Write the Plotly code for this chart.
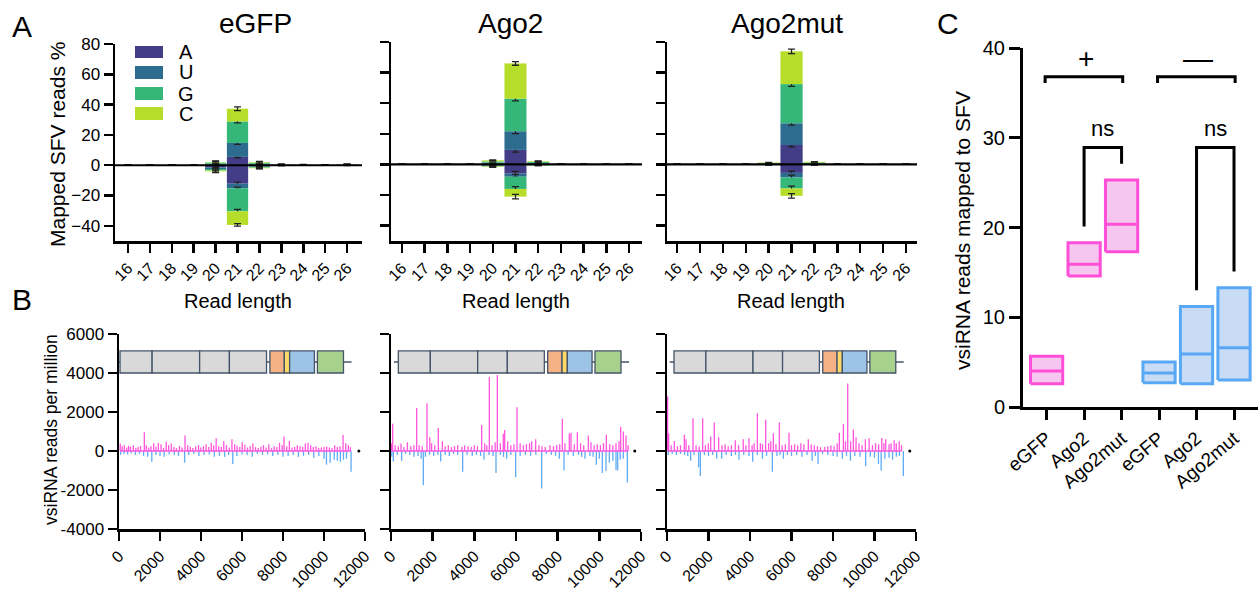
import plotly.graph_objects as go

FONT = "Liberation Sans, Arial, sans-serif"
W, H = 1258, 599

# ======================= DATA =======================
# ---- Panel A: % of mapped SFV reads by length and 5' nucleotide ----
lengths = [16, 17, 18, 19, 20, 21, 22, 23, 24, 25, 26]
nucleotides = ["A", "U", "G", "C"]

egfp_sense = {
    "A": [0, 0, 0, 0, 0.5, 5.5, 0.5, 0.2, 0.1, 0, 0.2],
    "U": [0, 0, 0, 0, 0.5, 9.2, 0.5, 0.1, 0.1, 0, 0.1],
    "G": [0, 0, 0, 0, 0.7, 14.2, 0.6, 0.2, 0.1, 0, 0.2],
    "C": [0, 0, 0, 0, 0.3, 8.4, 0.4, 0.1, 0.1, 0, 0.1],
}
egfp_anti = {
    "A": [0, 0, 0, 0, -1.5, -12.2, -0.6, -0.1, 0, 0, -0.1],
    "U": [0, 0, 0, 0, -1.0, -3.0, -0.4, -0.1, 0, 0, 0],
    "G": [0, 0, 0, 0, -1.0, -15.2, -0.6, -0.1, 0, 0, -0.1],
    "C": [0, 0, 0, 0, -0.5, -9.0, -0.4, 0, 0, 0, 0],
}
egfp_sense_sd = {
    "A": [0, 0, 0, 0, 0.8, 0.6, 0.6, 0.2, 0.1, 0, 0.2],
    "U": [0, 0, 0, 0, 0.8, 1.0, 0.6, 0.1, 0.1, 0, 0.1],
    "G": [0, 0, 0, 0, 0.8, 1.0, 0.6, 0.2, 0.1, 0, 0.2],
    "C": [0, 0, 0, 0, 0.8, 1.2, 0.6, 0.1, 0.1, 0, 0.1],
}
egfp_anti_sd = {
    "A": [0, 0, 0, 0, 1.0, 1.0, 0.6, 0, 0, 0, 0],
    "U": [0, 0, 0, 0, 1.0, 0.8, 0.5, 0, 0, 0, 0],
    "G": [0, 0, 0, 0, 1.0, 1.3, 0.6, 0, 0, 0, 0],
    "C": [0, 0, 0, 0, 0.8, 0.8, 0.4, 0, 0, 0, 0],
}

ago2_sense = {
    "A": [0, 0, 0, 0, 0.6, 9.5, 0.5, 0, 0, 0, 0],
    "U": [0, 0, 0, 0, 0.6, 12.2, 0.5, 0, 0, 0, 0],
    "G": [0, 0, 0, 0, 0.8, 21.3, 0.7, 0, 0, 0, 0],
    "C": [0, 0, 0, 0, 0.7, 23.0, 0.4, 0, 0, 0, 0],
}
ago2_anti = {
    "A": [0, 0, 0, 0, -0.5, -6.0, -0.2, 0, 0, 0, 0],
    "U": [0, 0, 0, 0, -0.3, -2.0, -0.1, 0, 0, 0, 0],
    "G": [0, 0, 0, 0, -0.5, -8.0, -0.2, 0, 0, 0, 0],
    "C": [0, 0, 0, 0, -0.3, -5.0, -0.1, 0, 0, 0, 0],
}
ago2_sense_sd = {
    "A": [0, 0, 0, 0, 0.3, 1.5, 0.3, 0, 0, 0, 0],
    "U": [0, 0, 0, 0, 0.3, 1.5, 0.3, 0, 0, 0, 0],
    "G": [0, 0, 0, 0, 0.3, 1.5, 0.3, 0, 0, 0, 0],
    "C": [0, 0, 0, 0, 0.3, 1.2, 0.3, 0, 0, 0, 0],
}
ago2_anti_sd = {
    "A": [0, 0, 0, 0, 0.3, 1.5, 0.2, 0, 0, 0, 0],
    "U": [0, 0, 0, 0, 0.3, 1.5, 0.2, 0, 0, 0, 0],
    "G": [0, 0, 0, 0, 0.3, 1.5, 0.2, 0, 0, 0, 0],
    "C": [0, 0, 0, 0, 0.3, 1.5, 0.2, 0, 0, 0, 0],
}

ago2mut_sense = {
    "A": [0, 0, 0, 0, 0.3, 12.7, 0.4, 0, 0, 0, 0],
    "U": [0, 0, 0, 0, 0.3, 14.2, 0.4, 0, 0, 0, 0],
    "G": [0, 0, 0, 0, 0.4, 25.6, 0.5, 0, 0, 0, 0],
    "C": [0, 0, 0, 0, 0.3, 21.4, 0.4, 0, 0, 0, 0],
}
ago2mut_anti = {
    "A": [0, 0, 0, 0, -0.1, -5.5, -0.1, 0, 0, 0, 0],
    "U": [0, 0, 0, 0, -0.05, -3.0, -0.05, 0, 0, 0, 0],
    "G": [0, 0, 0, 0, -0.1, -7.2, -0.1, 0, 0, 0, 0],
    "C": [0, 0, 0, 0, -0.05, -4.8, -0.05, 0, 0, 0, 0],
}
ago2mut_sense_sd = {
    "A": [0, 0, 0, 0, 0.1, 1.2, 0.1, 0, 0, 0, 0],
    "U": [0, 0, 0, 0, 0.1, 1.2, 0.1, 0, 0, 0, 0],
    "G": [0, 0, 0, 0, 0.1, 1.5, 0.1, 0, 0, 0, 0],
    "C": [0, 0, 0, 0, 0.1, 1.5, 0.1, 0, 0, 0, 0],
}
ago2mut_anti_sd = {
    "A": [0, 0, 0, 0, 0, 1.2, 0, 0, 0, 0, 0],
    "U": [0, 0, 0, 0, 0, 1.5, 0, 0, 0, 0, 0],
    "G": [0, 0, 0, 0, 0, 1.5, 0, 0, 0, 0, 0],
    "C": [0, 0, 0, 0, 0, 1.5, 0, 0, 0, 0, 0],
}

# ---- Panel B: vsiRNA coverage along SFV genome (position, reads per million) ----
egfp_cov_sense = [
    (60, 380), (150, 250), (260, 300), (380, 180), (470, 260), (560, 220), (700, 300), (820, 150),
    (930, 200), (1050, 260), (1235, 960), (1330, 300), (1450, 180), (1560, 250), (1690, 400),
    (1800, 220), (1920, 420), (2050, 350), (2170, 150), (2300, 480), (2420, 300), (2550, 380),
    (2680, 200), (2800, 150), (2950, 260), (3080, 180), (3220, 800), (3350, 300), (3480, 220),
    (3600, 160), (3740, 250), (3880, 300), (3990, 180), (4120, 250), (4250, 350), (4380, 200),
    (4500, 420), (4620, 300), (4740, 650), (4860, 250), (4990, 200), (5110, 500), (5240, 300),
    (5380, 180), (5510, 600), (5640, 350), (5760, 280), (5890, 200), (6010, 450), (6140, 320),
    (6270, 180), (6400, 250), (6530, 380), (6660, 200), (6790, 150), (6920, 220), (7050, 300),
    (7180, 180), (7310, 350), (7440, 150), (7570, 250), (7700, 200), (7830, 420), (7960, 300),
    (8050, 750), (8180, 250), (8310, 520), (8440, 180), (8570, 200), (8700, 300), (8830, 250),
    (8960, 200), (9090, 380), (9220, 420), (9350, 300), (9480, 200), (9610, 250), (9740, 150),
    (9870, 180), (10000, 200), (10130, 230), (10260, 180), (10390, 150), (10520, 300), (10650, 200),
    (10780, 250), (10930, 820), (11060, 400), (11190, 300), (11290, 200),
]
egfp_cov_anti = [
    (80, -200), (250, -150), (420, -180), (600, -120), (800, -200), (1000, -150), (1200, -250),
    (1400, -300), (1600, -550), (1800, -200), (2000, -250), (2200, -300), (2450, -180), (2700, -200),
    (2900, -250), (3200, -600), (3400, -200), (3650, -150), (3900, -250), (4150, -200), (4400, -180),
    (4650, -300), (4900, -250), (5150, -300), (5350, -200), (5550, -670), (5750, -250), (6000, -180),
    (6250, -200), (6500, -300), (6750, -150), (7000, -200), (7250, -180), (7500, -250), (7750, -200),
    (8000, -300), (8250, -250), (8500, -200), (8750, -300), (9000, -250), (9250, -200), (9500, -350),
    (9750, -250), (10000, -400), (10120, -700), (10300, -600), (10500, -450), (10650, -500),
    (10800, -550), (10950, -450), (11100, -400), (11320, -1060),
]
ago2_cov_sense = [
    (30, 400), (80, 1400), (200, 300), (350, 250), (480, 380), (620, 200), (784, 450), (950, 250),
    (1100, 300), (1232, 2200), (1350, 300), (1500, 250), (1728, 2450), (1860, 700), (1950, 400),
    (2100, 300), (2272, 1180), (2464, 500), (2600, 250), (2750, 300), (2900, 200), (3050, 250),
    (3200, 300), (3400, 200), (3536, 300), (3700, 250), (3850, 200), (4000, 300), (4150, 250),
    (4352, 1330), (4500, 400), (4600, 300), (4720, 3800), (4850, 300), (5000, 450), (5104, 3900),
    (5250, 400), (5390, 880), (5456, 1080), (5600, 500), (5750, 300), (5900, 350), (6048, 2250),
    (6200, 400), (6350, 300), (6500, 350), (6650, 400), (6752, 500), (6944, 600), (7100, 300),
    (7250, 250), (7400, 200), (7632, 300), (7800, 250), (7950, 300), (8100, 350), (8224, 1650),
    (8350, 400), (8560, 900), (8640, 930), (8800, 350), (8944, 960), (9100, 400), (9250, 300),
    (9472, 800), (9600, 450), (9750, 300), (9900, 350), (10050, 300), (10200, 400), (10336, 830),
    (10500, 350), (10650, 300), (10800, 400), (10944, 500), (11024, 1250), (11152, 1000),
    (11280, 800), (11380, 300),
]
ago2_cov_anti = [
    (40, -300), (112, -540), (300, -200), (512, -500), (700, -150), (900, -200), (1104, -300),
    (1300, -250), (1450, -400), (1552, -1750), (1650, -300), (1850, -200), (2050, -250), (2250, -200),
    (2384, -540), (2600, -200), (2800, -250), (3000, -150), (3200, -200), (3440, -1070), (3650, -200),
    (3900, -250), (4100, -200), (4300, -250), (4464, -450), (4700, -200), (4900, -250), (5040, -1130),
    (5250, -200), (5400, -300), (5552, -400), (5750, -200), (5984, -1340), (6200, -250), (6450, -200),
    (6700, -250), (6950, -200), (7232, -1920), (7450, -150), (7700, -200), (7900, -250), (8080, -400),
    (8304, -1000), (8500, -200), (8750, -250), (9000, -200), (9150, -300), (9312, -400), (9550, -250),
    (9700, -300), (9856, -700), (10000, -400), (10144, -1130), (10320, -1030), (10480, -600),
    (10650, -500), (10800, -970), (10880, -1000), (11000, -450), (11150, -400), (11344, -1620),
]
ago2mut_cov_sense = [
    (30, 2800), (80, 900), (200, 300), (352, 515), (500, 250), (650, 300), (835, 830), (915, 600),
    (1050, 300), (1253, 1680), (1400, 300), (1550, 250), (1720, 1680), (1850, 300), (1990, 400),
    (2106, 750), (2280, 1465), (2490, 700), (2650, 300), (2800, 350), (2950, 250), (3100, 300),
    (3290, 550), (3450, 300), (3675, 600), (3800, 300), (3950, 650), (4100, 300), (4200, 400),
    (4355, 1930), (4500, 400), (4600, 350), (4755, 1600), (4900, 400), (5000, 500), (5125, 915),
    (5250, 350), (5415, 1465), (5550, 300), (5700, 350), (5880, 930), (6000, 300), (6150, 350),
    (6300, 300), (6450, 400), (6600, 350), (6810, 600), (6950, 350), (7100, 300), (7250, 250),
    (7400, 200), (7600, 200), (7750, 250), (7900, 300), (8050, 250), (8200, 400), (8306, 936),
    (8500, 1380), (8600, 500), (8709, 3465), (8850, 500), (8980, 1100), (9110, 700), (9250, 400),
    (9400, 300), (9560, 600), (9740, 650), (9900, 300), (10050, 400), (10200, 350), (10350, 665),
    (10450, 400), (10540, 600), (10700, 350), (10800, 400), (10950, 550), (11050, 400),
    (11190, 500), (11300, 300),
]
ago2mut_cov_anti = [
    (60, -200), (250, -150), (450, -200), (650, -150), (850, -200), (1000, -250), (1140, -500),
    (1300, -200), (1525, -830), (1607, -1285), (1800, -200), (2000, -250), (2200, -200), (2395, -400),
    (2635, -400), (2850, -200), (3100, -250), (3300, -200), (3470, -450), (3700, -200), (3950, -250),
    (4130, -550), (4350, -200), (4600, -400), (4800, -250), (5077, -1070), (5300, -250), (5450, -200),
    (5610, -400), (5800, -200), (6000, -250), (6250, -200), (6500, -300), (6750, -200), (6995, -500),
    (7150, -250), (7280, -670), (7500, -150), (7750, -200), (8000, -250), (8200, -300), (8450, -400),
    (8650, -250), (8840, -500), (9050, -250), (9300, -300), (9575, -785), (9800, -300), (10000, -350),
    (10190, -670), (10320, -1000), (10500, -400), (10700, -350), (10870, -450), (11050, -300),
    (11200, -250), (11390, -1285),
]
genome_end_point = 11700
genome_ticks = [0, 2000, 4000, 6000, 8000, 10000, 12000]
cov_ticks = [-4000, -2000, 0, 2000, 4000, 6000]

# SFV genome map (nt)
gene_names = ["nsP1", "nsP2", "nsP3", "nsP4", "C", "E3", "E2", "E1"]
gene_starts = [352, 1888, 4160, 5584, 7520, 8210, 8464, 9792]
gene_ends = [1888, 4160, 5584, 7360, 8210, 8464, 9650, 11040]
genome_span = [144, 11424]

# ---- Panel C: vsiRNA reads mapped to SFV (min / median / max) ----
c_labels = ["eGFP", "Ago2", "Ago2mut", "eGFP", "Ago2", "Ago2mut"]
c_min = [2.6, 14.6, 17.3, 2.7, 2.6, 3.0]
c_median = [4.0, 15.9, 20.35, 3.8, 5.9, 6.6]
c_max = [5.65, 18.3, 25.3, 5.0, 11.2, 13.3]
c_strand = ["+", "+", "+", "—", "—", "—"]

# ======================= STYLE =======================
nt_colors = {"A": "#433c86", "U": "#2e6c8f", "G": "#35b779", "C": "#b6dd2a"}
gene_colors = ["#d9d9d9", "#d9d9d9", "#d9d9d9", "#d9d9d9", "#f4b183", "#ffd966", "#9dc3e6", "#a9d18e"]
PINK, PINK_FILL = "#ff4fd8", "#f5c6ef"
BLUE, BLUE_FILL = "#58a8f6", "#c8dcf6"
COV_PINK, COV_BLUE = "#ff55dc", "#5eabf5"
MAP_LINE = "#44546a"


def fx(p):
    return p / W


def fy(p):
    return 1 - p / H


fig = go.Figure()

# ---------------- Panel A ----------------
panels_a = [
    ("x", "y", egfp_sense, egfp_sense_sd, egfp_anti, egfp_anti_sd),
    ("x2", "y2", ago2_sense, ago2_sense_sd, ago2_anti, ago2_anti_sd),
    ("x3", "y3", ago2mut_sense, ago2mut_sense_sd, ago2mut_anti, ago2mut_anti_sd),
]
for xa, ya, s, ssd, a, asd in panels_a:
    for vals, sds in ((s, ssd), (a, asd)):
        for nt in nucleotides:
            fig.add_trace(go.Bar(
                x=lengths, y=vals[nt], width=0.97, xaxis=xa, yaxis=ya,
                marker=dict(color=nt_colors[nt], line=dict(width=0)),
                error_y=dict(type="data", array=sds[nt], color="#222222", thickness=1.3, width=3.5),
                showlegend=False, hoverinfo="skip",
            ))

# ---------------- Panel B ----------------
def stems(pairs):
    xs, ys = [], []
    for p, v in pairs:
        xs += [p, p, None]
        ys += [0, v, None]
    return xs, ys


panels_b = [
    ("x4", "y4", egfp_cov_sense, egfp_cov_anti),
    ("x5", "y5", ago2_cov_sense, ago2_cov_anti),
    ("x6", "y6", ago2mut_cov_sense, ago2mut_cov_anti),
]
for xa, ya, sense, anti in panels_b:
    ax, ay = stems(anti)
    fig.add_trace(go.Scatter(x=ax, y=ay, mode="lines", line=dict(color=COV_BLUE, width=1.3),
                             xaxis=xa, yaxis=ya, showlegend=False, hoverinfo="skip"))
    sx, sy = stems(sense)
    fig.add_trace(go.Scatter(x=sx, y=sy, mode="lines", line=dict(color=COV_PINK, width=1.3),
                             xaxis=xa, yaxis=ya, showlegend=False, hoverinfo="skip"))
    fig.add_trace(go.Scatter(x=[sense[0][0], sense[-1][0]], y=[0, 0], mode="lines",
                             line=dict(color=COV_PINK, width=1.5),
                             xaxis=xa, yaxis=ya, showlegend=False, hoverinfo="skip"))
    fig.add_trace(go.Scatter(x=[genome_end_point], y=[0], mode="markers",
                             marker=dict(color="black", size=3), xaxis=xa, yaxis=ya,
                             showlegend=False, hoverinfo="skip", cliponaxis=False))

# ---------------- Panel C ----------------
BOX_HW = 0.43
for i in range(len(c_labels)):
    col, fill = (PINK, PINK_FILL) if c_strand[i] == "+" else (BLUE, BLUE_FILL)
    fig.add_trace(go.Scatter(
        x=[i - BOX_HW, i + BOX_HW, i + BOX_HW, i - BOX_HW, i - BOX_HW],
        y=[c_min[i], c_min[i], c_max[i], c_max[i], c_min[i]],
        mode="lines", fill="toself", fillcolor=fill, line=dict(color=col, width=3),
        xaxis="x7", yaxis="y7", showlegend=False, hoverinfo="skip"))
    fig.add_trace(go.Scatter(
        x=[i - BOX_HW, i + BOX_HW], y=[c_median[i], c_median[i]], mode="lines",
        line=dict(color=col, width=3), xaxis="x7", yaxis="y7", showlegend=False, hoverinfo="skip"))

# group brackets and ns brackets
bx, by = [], []
for g0, g1 in ((0, 2), (3, 5)):
    top = 36.8
    bx += [g0 - 0.04, g0 - 0.04, g1 + 0.03, g1 + 0.03, None]
    by += [36.1, top, top, 36.1, None]
ns_top = 28.9
for g0, g1 in ((1, 2), (4, 5)):
    bx += [g0, g0, g1, g1, None]
    by += [c_max[g0] + 1.8, ns_top, ns_top, c_max[g1] + 1.8, None]
fig.add_trace(go.Scatter(x=bx, y=by, mode="lines", line=dict(color="black", width=3),
                         xaxis="x7", yaxis="y7", showlegend=False, hoverinfo="skip"))

# ======================= AXES =======================
def axis_style(**kw):
    d = dict(showline=True, linecolor="black", linewidth=2.5, ticks="outside", ticklen=9,
             tickwidth=2.5, tickcolor="black", showgrid=False, zeroline=False, automargin=False,
             tickfont=dict(family=FONT, size=16, color="black"), fixedrange=True)
    d.update(kw)
    return d


a_x_px = [(115, 362), (391, 642), (667, 917)]
a_x_rng = [(15.41, 26.68), (15.52, 26.57), (15.56, 26.48)]
a_y_px = [(44, 241), (42, 241), (42, 241)]
b_x_px = [(119, 365), (391, 641), (667, 916)]
b_y_px = (334, 529)

layout_axes = {}
for k in range(3):
    xn = "xaxis" if k == 0 else f"xaxis{k + 1}"
    yn = "yaxis" if k == 0 else f"yaxis{k + 1}"
    yid = "y" if k == 0 else f"y{k + 1}"
    xid = "x" if k == 0 else f"x{k + 1}"
    layout_axes[xn] = axis_style(domain=[fx(a_x_px[k][0]), fx(a_x_px[k][1])], anchor=yid,
                                 range=list(a_x_rng[k]), tickvals=lengths,
                                 ticktext=[str(v) for v in lengths], tickangle=-45,
                                 tickfont=dict(family=FONT, size=16, color="black"))
    layout_axes[yn] = axis_style(domain=[fy(a_y_px[k][1]), fy(a_y_px[k][0])], anchor=xid,
                                 range=[-50, 80], tickvals=[-40, -20, 0, 20, 40, 60, 80],
                                 showticklabels=(k == 0),
                                 tickfont=dict(family=FONT, size=17, color="black"))
for k in range(3):
    n = k + 4
    layout_axes[f"xaxis{n}"] = axis_style(domain=[fx(b_x_px[k][0]), fx(b_x_px[k][1])], anchor=f"y{n}",
                                          range=[0, 12000], tickvals=genome_ticks,
                                          ticktext=[str(v) for v in genome_ticks], tickangle=-45,
                                          tickfont=dict(family=FONT, size=16, color="black"))
    layout_axes[f"yaxis{n}"] = axis_style(domain=[fy(b_y_px[1]), fy(b_y_px[0])], anchor=f"x{n}",
                                          range=[-4000, 6000], tickvals=cov_ticks,
                                          ticktext=[str(v) for v in cov_ticks],
                                          showticklabels=(k == 0),
                                          tickfont=dict(family=FONT, size=17, color="black"))
layout_axes["xaxis7"] = axis_style(domain=[fx(1023), 1.0], anchor="y7", range=[-0.63, 5.64],
                                   tickvals=list(range(len(c_labels))), ticktext=c_labels,
                                   tickangle=-40, ticklen=10, linewidth=3, tickwidth=3,
                                   tickfont=dict(family=FONT, size=19, color="black"))
layout_axes["yaxis7"] = axis_style(domain=[fy(407), fy(48)], anchor="x7", range=[0, 40],
                                   tickvals=[0, 10, 20, 30, 40], ticklen=11, linewidth=3, tickwidth=3,
                                   tickfont=dict(family=FONT, size=20, color="black"))

# ======================= SHAPES =======================
shapes = []
# zero lines for panel A (above bars)
for yid, xid in (("y", "x"), ("y2", "x2"), ("y3", "x3")):
    shapes.append(dict(type="line", xref=f"{xid} domain", yref=yid, x0=0, x1=1, y0=0, y1=0,
                       line=dict(color="black", width=2.2), layer="above"))

# genome maps (per-panel horizontal scale / offset of the drawn map)
map_transform = [(1.02, -310), (1.0, 0), (1.0, -15)]
MAP_Y0, MAP_Y1, MAP_YC = 4000, 5130, 4565
for k in range(3):
    xid, yid = f"x{k + 4}", f"y{k + 4}"
    sc, off = map_transform[k]
    shapes.append(dict(type="line", xref=xid, yref=yid,
                       x0=genome_span[0] * sc + off, x1=genome_span[1] * sc + off,
                       y0=MAP_YC, y1=MAP_YC, line=dict(color=MAP_LINE, width=1.5), layer="above"))
    for g in range(len(gene_names)):
        shapes.append(dict(type="rect", xref=xid, yref=yid,
                           x0=gene_starts[g] * sc + off, x1=gene_ends[g] * sc + off,
                           y0=MAP_Y0, y1=MAP_Y1, fillcolor=gene_colors[g],
                           line=dict(color=MAP_LINE, width=1.3), layer="above"))

# legend swatches for panel A
legend_rows = [(46, 58), (66, 79), (87, 100), (107, 120)]
for nt, (t, b) in zip(nucleotides, legend_rows):
    shapes.append(dict(type="rect", xref="paper", yref="paper", x0=fx(135), x1=fx(163),
                       y0=fy(b), y1=fy(t), fillcolor=nt_colors[nt], line=dict(width=0)))

# ======================= ANNOTATIONS =======================
ann = []


def text(x, y, s, size, angle=0, xanchor="center"):
    ann.append(dict(x=fx(x), y=fy(y), xref="paper", yref="paper", text=s, showarrow=False,
                    textangle=angle, xanchor=xanchor, yanchor="middle",
                    font=dict(family=FONT, size=size, color="black")))


text(22, 26, "A", 30)
text(22, 299, "B", 30)
text(948, 24, "C", 30)
text(255, 24, "eGFP", 28)
text(510, 24, "Ago2", 28)
text(787, 24, "Ago2mut", 28)
text(57, 145, "Mapped SFV reads %", 21, -90)
for cx in (238, 516, 791):
    text(cx, 301, "Read length", 20)
text(51, 430, "vsiRNA reads per million", 17.5, -90)
text(962, 230, "vsiRNA reads mapped to SFV", 21, -90)
for nt, (t, b) in zip(nucleotides, legend_rows):
    text(186, (t + b) / 2, nt, 20)

# bracket labels in panel C (data coords)
for label, xc, yc, size in (("+", 1.05, 38.8, 28), ("—", 4.05, 38.8, 30),
                            ("ns", 1.5, 31.0, 22), ("ns", 4.5, 31.0, 22)):
    ann.append(dict(x=xc, y=yc, xref="x7", yref="y7", text=label, showarrow=False,
                    font=dict(family=FONT, size=size, color="black")))

fig.update_layout(
    width=W, height=H, autosize=False,
    margin=dict(l=0, r=0, t=0, b=0, pad=0, autoexpand=False),
    paper_bgcolor="white", plot_bgcolor="rgba(0,0,0,0)",
    barmode="relative", showlegend=False,
    shapes=shapes, annotations=ann,
    **layout_axes,
)

# remove the browser's default 8px body margin so the figure sits at the page origin
fig.write_html("out.html", config={"displayModeBar": False, "staticPlot": True},
               post_script="document.body.style.margin='0px';")
